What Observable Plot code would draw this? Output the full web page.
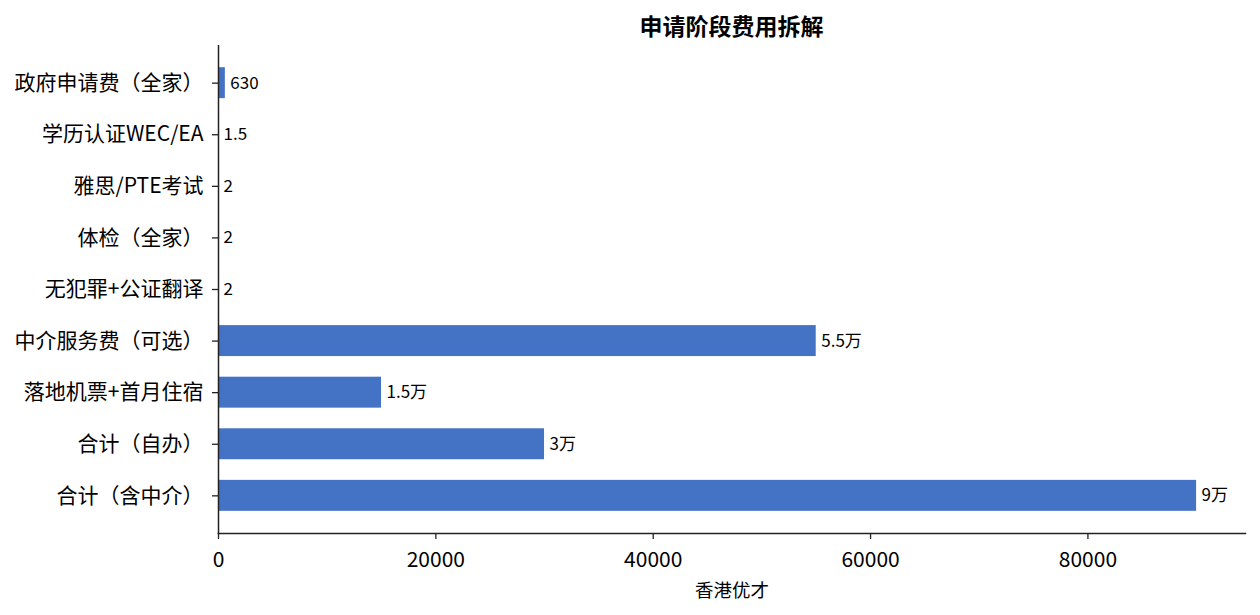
<!DOCTYPE html>
<html>
<head>
<meta charset="utf-8">
<script src="https://cdn.jsdelivr.net/npm/d3@7"></script>
<script src="https://cdn.jsdelivr.net/npm/@observablehq/plot@0.6"></script>
<style>
  body { margin: 0; background: #fff; font-family: "Noto Sans CJK SC", "Noto Sans", sans-serif; }
  #title { width: 1027px; padding-left: 218px; padding-right: 15px; height: 45px; line-height: 50px;
           text-align: center; font-weight: bold; font-size: 23px; color: #000; }
</style>
</head>
<body>
<div id="title">申请阶段费用拆解</div>
<div id="chart"></div>
<script>
const categories = ["政府申请费（全家）", "学历认证WEC/EA", "雅思/PTE考试", "体检（全家）", "无犯罪+公证翻译", "中介服务费（可选）", "落地机票+首月住宿", "合计（自办）", "合计（含中介）"];
const values = [630, 1.5, 2, 2, 2, 55000, 15000, 30000, 90000];
const valueLabels = ["630", "1.5", "2", "2", "2", "5.5万", "1.5万", "3万", "9万"];
const xTicks = [0, 20000, 40000, 60000, 80000];
const xLabel = "香港优才";

const data = categories.map((c, i) => ({cat: c, value: values[i], label: valueLabels[i]}));

const chart = Plot.plot({
  width: 1260,
  height: 570,
  marginTop: 0,
  marginBottom: 82,
  marginLeft: 218,
  marginRight: 15,
  style: {fontFamily: '"Noto Sans CJK SC", "Noto Sans", sans-serif', color: "#000", background: "#fff"},
  x: {domain: [0, 94500], ticks: xTicks, tickFormat: d => String(d), label: null},
  y: {domain: categories, paddingInner: 0.4, paddingOuter: 0.43, round: false, label: null},
  marks: [
    Plot.barX(data, {x: "value", y: "cat", fill: "#4472C4"}),
    Plot.text(data, {x: "value", y: "cat", text: "label", textAnchor: "start", dx: 5, fontSize: 17, fill: "#000"}),
    Plot.axisY({tickSize: 6, tickPadding: 9, fontSize: 21, stroke: "#222", strokeWidth: 1.3, label: null}),
    Plot.axisX({ticks: xTicks, tickFormat: d => String(d), tickSize: 6, tickPadding: 13, fontSize: 21, stroke: "#222", strokeWidth: 1.3, label: null}),
    Plot.frame({anchor: "left", stroke: "#222", strokeWidth: 1.5}),
    Plot.frame({anchor: "bottom", stroke: "#222", strokeWidth: 1.5}),
    Plot.text([xLabel], {text: d => d, frameAnchor: "bottom", dy: 63, fontSize: 18.5, fill: "#000"})
  ]
});
document.getElementById("chart").appendChild(chart);
</script>
</body>
</html>
